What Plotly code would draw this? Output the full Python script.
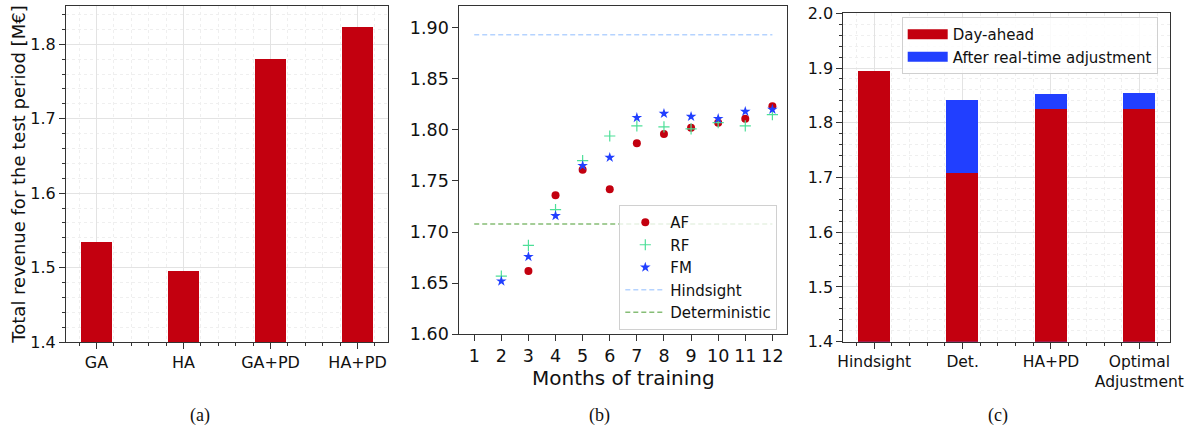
import plotly.graph_objects as go
from plotly.subplots import make_subplots

# ---------------- data ----------------
a_categories = ["GA", "HA", "GA+PD", "HA+PD"]
a_revenue = [1.535, 1.495, 1.780, 1.823]

af_months = [3, 4, 5, 6, 7, 8, 9, 10, 11, 12]
af_values = [1.662, 1.736, 1.761, 1.742, 1.787, 1.796, 1.802, 1.807, 1.811, 1.823]
rf_months = [2, 3, 4, 5, 6, 7, 8, 9, 10, 11, 12]
rf_values = [1.657, 1.687, 1.722, 1.770, 1.794, 1.804, 1.803, 1.801, 1.807, 1.804, 1.815]
fm_months = [2, 3, 4, 5, 6, 7, 8, 9, 10, 11, 12]
fm_values = [1.652, 1.676, 1.716, 1.765, 1.773, 1.812, 1.816, 1.813, 1.811, 1.818, 1.820]
hindsight_value = 1.893
deterministic_value = 1.708
line_months = [1, 12]

c_categories = ["Hindsight", "Det.", "HA+PD", "Optimal<br>Adjustment"]
c_day_ahead = [1.894, 1.708, 1.824, 1.824]
c_after_rt = [1.894, 1.841, 1.852, 1.854]

captions = ["(a)", "(b)", "(c)"]

# ---------------- styles ----------------
RED = "#c3000f"
BLUE = "#213fff"
GREEN = "#4ddf98"
HS_BLUE = "#b5d3ff"
DET_GREEN = "#86bd76"
FONT = "DejaVu Sans"
AX = "#333333"

fig = make_subplots(rows=1, cols=3)

fig.add_trace(go.Bar(x=list(range(len(a_categories))), y=a_revenue, width=0.36,
                     marker=dict(color=RED, line=dict(width=0)), showlegend=False),
              row=1, col=1)

fig.add_trace(go.Scatter(x=af_months, y=af_values, mode="markers", name="AF",
                         marker=dict(symbol="circle", size=8, color=RED), legend="legend"),
              row=1, col=2)
fig.add_trace(go.Scatter(x=rf_months, y=rf_values, mode="markers", name="RF",
                         marker=dict(symbol="cross-thin", size=8, color=GREEN,
                                     line=dict(color=GREEN, width=1.2)), legend="legend"),
              row=1, col=2)
fig.add_trace(go.Scatter(x=fm_months, y=fm_values, mode="markers", name="FM",
                         marker=dict(symbol="star", size=8, color=BLUE, line=dict(width=0)),
                         legend="legend"),
              row=1, col=2)
fig.add_trace(go.Scatter(x=line_months, y=[hindsight_value] * len(line_months), mode="lines",
                         name="Hindsight", line=dict(color=HS_BLUE, width=1.5, dash="5px,3px"),
                         legend="legend"),
              row=1, col=2)
fig.add_trace(go.Scatter(x=line_months, y=[deterministic_value] * len(line_months), mode="lines",
                         name="Deterministic", line=dict(color=DET_GREEN, width=1.5, dash="5px,3px"),
                         legend="legend"),
              row=1, col=2)

fig.add_trace(go.Bar(x=list(range(len(c_categories))), y=c_after_rt, width=0.36,
                     name="After real-time adjustment", showlegend=False,
                     marker=dict(color=BLUE, line=dict(width=0))),
              row=1, col=3)
fig.add_trace(go.Bar(x=list(range(len(c_categories))), y=c_day_ahead, width=0.36,
                     name="Day-ahead", showlegend=False,
                     marker=dict(color=RED, line=dict(width=0))),
              row=1, col=3)
# legend patches (wide rectangles like matplotlib) for panel (c)
for nm, colr in [("Day-ahead", RED), ("After real-time adjustment", BLUE)]:
    fig.add_trace(go.Scatter(x=[None], y=[None], mode="lines", name=nm,
                             line=dict(color=colr, width=11), legend="legend2"),
                  row=1, col=3)

W, H = 1191, 428
def dx(a, b):
    return [a / W, b / W]
def dy(top, bottom):
    return [(H - bottom) / H, (H - top) / H]

def axis_style(size):
    return dict(showline=True, mirror=True, linecolor=AX, linewidth=1,
                ticks="outside", ticklen=6, tickcolor=AX, automargin=False, zeroline=False,
                tickfont=dict(family=FONT, size=size, color="#111"))
grid_major = dict(showgrid=True, gridcolor="#e3e3e3", gridwidth=1)
def minor_style(t0, dt):
    return dict(tick0=t0, dtick=dt, ticks="outside", ticklen=3, tickcolor=AX,
                showgrid=True, gridcolor="#efefef", griddash="dot")

# panel (a)
fig.update_xaxes(domain=dx(66, 388), range=[-0.35, 3.35], tickmode="array",
                 tickvals=list(range(len(a_categories))), ticktext=a_categories,
                 minor=minor_style(0, 0.2), **grid_major, **axis_style(16), row=1, col=1)
fig.update_yaxes(domain=dy(6, 342), range=[1.4, 1.8515], tick0=1.4, dtick=0.1, tickformat=".1f",
                 minor=minor_style(1.4, 0.02),
                 title=dict(text="Total revenue for the test period [M€]", standoff=0,
                            font=dict(family=FONT, size=18, color="#111")),
                 **grid_major, **axis_style(16), row=1, col=1)

# panel (b)
fig.update_xaxes(domain=dx(459.3, 787.3), range=[0.45, 12.55], tickmode="linear", tick0=1, dtick=1,
                 showgrid=False,
                 title=dict(text="Months of training", standoff=5,
                            font=dict(family=FONT, size=20, color="#111")),
                 **axis_style(17.5), row=1, col=2)
fig.update_yaxes(domain=dy(6, 334.3), range=[1.6, 1.9212], tick0=1.6, dtick=0.05, tickformat=".2f",
                 showgrid=False, **axis_style(17.5), row=1, col=2)

# panel (c)
fig.update_xaxes(domain=dx(843.3, 1170.3), range=[-0.35, 3.35], tickmode="array",
                 tickvals=list(range(len(c_categories))), ticktext=c_categories,
                 minor=minor_style(0, 0.2), **grid_major, **axis_style(15.5), row=1, col=3)
fig.update_yaxes(domain=dy(13.3, 341.7), range=[1.4, 2.0], tick0=1.4, dtick=0.1, tickformat=".1f",
                 minor=minor_style(1.4, 0.02), **grid_major, **axis_style(16), row=1, col=3)

for text, xc in zip(captions, [200, 599, 998]):
    fig.add_annotation(text=text, x=xc / W, y=(H - 415) / H, xref="paper", yref="paper",
                       xanchor="center", yanchor="middle", showarrow=False,
                       font=dict(family="Liberation Serif", size=18, color="#111"))

fig.update_layout(
    width=W, height=H, margin=dict(l=0, r=0, t=0, b=0),
    paper_bgcolor="white", plot_bgcolor="white",
    barmode="overlay", bargap=0,
    font=dict(family=FONT, color="#111"),
    legend=dict(x=619.3 / W, y=(H - 205) / H, xanchor="left", yanchor="top", itemwidth=40,
                bgcolor="rgba(255,255,255,0.8)", bordercolor="#d0d0d0", borderwidth=1,
                font=dict(family=FONT, size=15, color="#111"), tracegroupgap=0),
    legend2=dict(x=901.7 / W, y=(H - 17) / H, xanchor="left", yanchor="top", itemwidth=40,
                 bgcolor="rgba(255,255,255,0.8)", bordercolor="#d0d0d0", borderwidth=1,
                 font=dict(family=FONT, size=15, color="#111"), tracegroupgap=0),
)

fig.write_html("out.html", config={"displayModeBar": False},
               post_script="document.body.style.margin='0';document.body.style.overflow='hidden';")
